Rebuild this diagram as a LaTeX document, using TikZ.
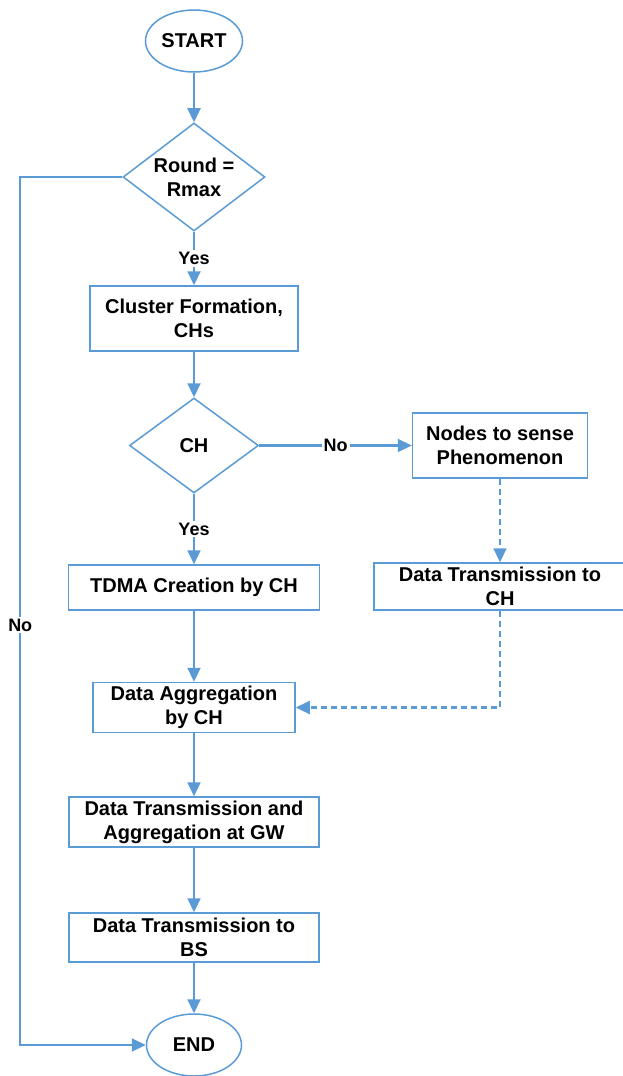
\documentclass[tikz,border=0pt]{standalone}
\usepackage{fontspec}
\setmainfont{Liberation Sans}
\usepackage{tikz}
\usetikzlibrary{shapes.geometric,arrows.meta}
\definecolor{flowblue}{RGB}{91,155,213}

\begin{document}
\begin{tikzpicture}[>={Triangle[length=14pt,width=13pt]},x=1pt,y=1pt,
	node distance=136pt,font=\bfseries\fontsize{20}{24}\selectfont]
	\tikzstyle{process}=[rectangle,draw=flowblue,line width=1.5pt,align=center,inner sep=2pt]
	\tikzstyle{decision}=[diamond,draw=flowblue,line width=1.5pt,align=center,inner sep=0pt,aspect=1.3]
	\tikzstyle{terminal}=[ellipse,draw=flowblue,line width=1.5pt,inner sep=0pt]
	\tikzstyle{flow}=[->,draw=flowblue,line width=2.2pt]
	\tikzstyle{dashflow}=[flow,dash pattern=on 6pt off 4pt]
	\tikzstyle{lab}=[fill=white,inner sep=2pt,font=\bfseries\fontsize{18}{21}\selectfont]
	
	\useasboundingbox (0,0) rectangle (622,-1076);
	
	\node[terminal,minimum width=97pt,minimum height=62pt] (start) at (194,-41) {START};
	\node[decision,minimum width=142pt,minimum height=108pt] (round) [below of=start] {Round =\\Rmax};
	\node[process,minimum width=208pt,minimum height=65pt] (cluster) [below of=round,node distance=141.5pt] {Cluster Formation,\\CHs};
	\node[decision,minimum width=129pt,minimum height=95pt] (ch) [below of=cluster,node distance=127pt] {CH};
	\node[process,minimum width=251pt,minimum height=45pt] (tdma) [below of=ch,node distance=142pt] {TDMA Creation by CH};
	\node[process,minimum width=202pt,minimum height=50pt] (agg) [below of=tdma,node distance=120pt] {Data Aggregation\\by CH};
	\node[process,minimum width=250pt,minimum height=50pt] (gw) [below of=agg,node distance=114.5pt] {Data Transmission and\\Aggregation at GW};
	\node[process,minimum width=250pt,minimum height=49pt] (bs) [below of=gw,node distance=115.5pt] {Data Transmission to\\BS};
	\node[terminal,minimum width=95pt,minimum height=62pt] (end) [below of=bs,node distance=107.5pt] {END};
	
	\node[process,minimum width=175pt,minimum height=65pt] (sense) [right of=ch,node distance=306pt] {Nodes to sense\\Phenomenon};
	\node[process,minimum width=252pt,minimum height=47pt] (tochead) [below of=sense,node distance=141pt] {Data Transmission to\\CH};
	
	\coordinate (topturn) at ([xshift=-102pt]round.west);
	\coordinate (botturn) at (topturn |- end.west);
	
	\draw[flow] (start) -- (round);
	\draw[flow] (round) -- node[lab] {Yes} (cluster);
	\draw[flow] (cluster) -- (ch);
	\draw[flow] (ch) -- node[lab] {Yes} (tdma);
	\draw[flow] (ch) -- node[lab] {No} (sense);
	\draw[flow] (tdma) -- (agg);
	\draw[flow] (agg) -- (gw);
	\draw[flow] (gw) -- (bs);
	\draw[flow] (bs) -- (end);
	\draw[dashflow] (sense) -- (tochead);
	\draw[dashflow] (tochead.south) |- (agg.east);
	\draw[flow] (round.west) -- (topturn) -- node[lab,pos=0.516] {No} (botturn) -- (end.west);
	
\end{tikzpicture}
\end{document}
